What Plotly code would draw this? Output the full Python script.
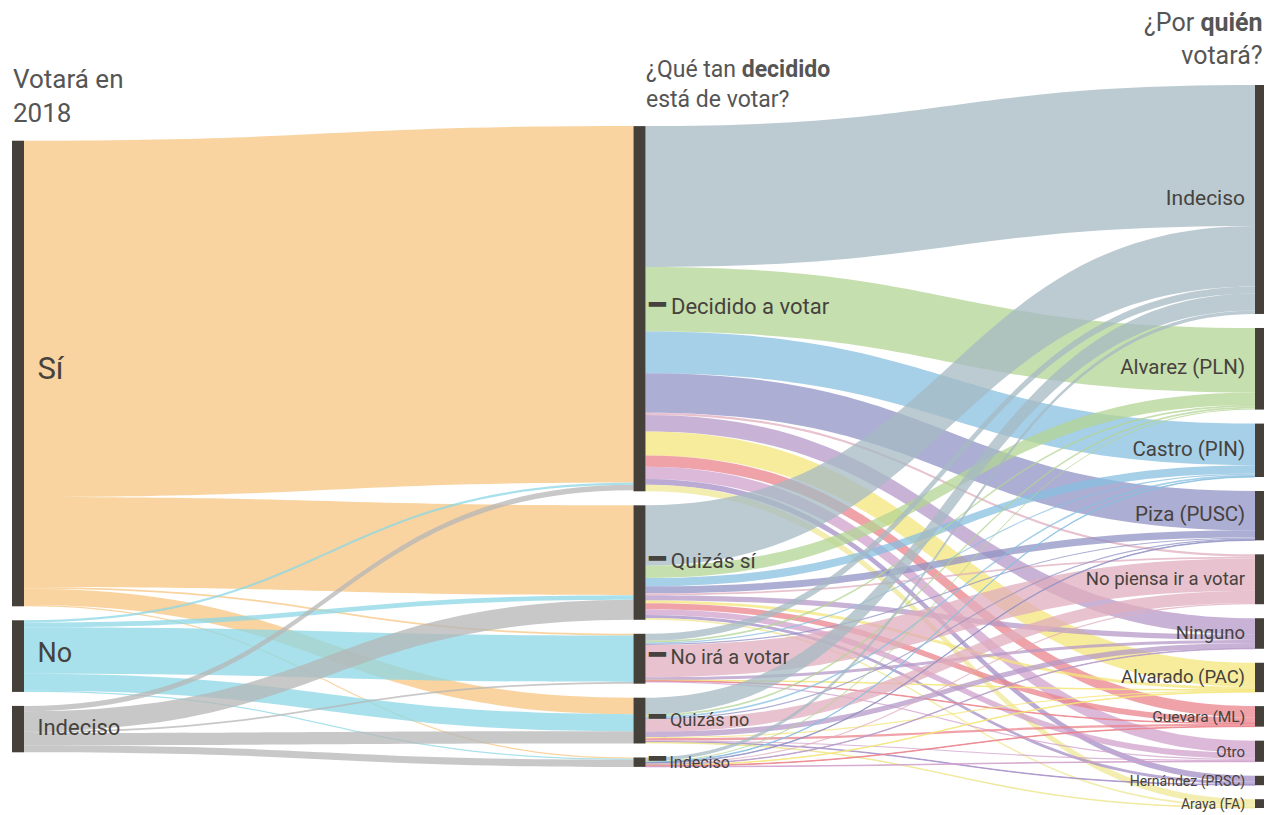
import plotly.graph_objects as go

# ---------------- data ----------------
labels = ["Sí", "No", "Indeciso",
          "Decidido a votar", "Quizás sí", "No irá a votar", "Quizás no", "Indeciso",
          "Indeciso", "Alvarez (PLN)", "Castro (PIN)", "Piza (PUSC)", "No piensa ir a votar",
          "Ninguno", "Alvarado (PAC)", "Guevara (ML)", "Otro", "Hernández (PRSC)", "Araya (FA)"]
columns = [0, 0, 0,
           1, 1, 1, 1, 1,
           2, 2, 2, 2, 2, 2, 2, 2, 2, 2, 2]
label_sizes = [31, 27, 22,
               22, 21, 20, 18, 16,
               21, 20.5, 20.5, 20.5, 18.5, 18.5, 18.5, 15.5, 15, 14, 14]
middle_nodes = [3, 4, 5, 6, 7]

# Votará en 2018 -> ¿Qué tan decidido?
src_a = [0, 0, 0, 0, 0,
         1, 1, 1, 1, 1,
         2, 2, 2, 2, 2]
tgt_a = [3, 4, 5, 6, 7,
         3, 4, 5, 6, 7,
         3, 4, 5, 6, 7]
val_a = [60.7, 15.3, 0.3, 2.8, 0.2,
         0.4, 0.8, 7.9, 2.9, 0.2,
         0.9, 3.4, 0.3, 2.1, 1.2]

# ¿Qué tan decidido? -> ¿Por quién votará?
cand = list(range(8, 19))
val_decidido = [24.0, 11.0, 7.1, 6.7, 0.4, 2.8, 4.1, 1.9, 2.1, 1.0, 1.1]
val_quizas_si = [10.3, 2.1, 1.4, 1.2, 0.3, 0.9, 0.5, 1.0, 1.0, 0.5, 0.3]
val_no_ira = [1.2, 0.3, 0.2, 0.2, 5.5, 0.5, 0.1, 0.1, 0.2, 0.0, 0.0]
val_quizas_no = [2.9, 0.3, 0.3, 0.2, 2.1, 0.9, 0.2, 0.4, 0.2, 0.1, 0.1]
val_indeciso = [0.6, 0.2, 0.1, 0.1, 0.2, 0.1, 0.1, 0.1, 0.1, 0.0, 0.0]

# ---------------- styles ----------------
left_colors = {0: "#F9D4A0", 1: "#A8E1EC", 2: "#C8C8C8"}
right_colors = {8: "#BCCBD2", 9: "#C6DFAE", 10: "#A6CFE8", 11: "#ADAED3", 12: "#E8C2CE",
                13: "#C8B3D6", 14: "#F7EC9C", 15: "#F0A2A9", 16: "#DCB8D9", 17: "#BBAAD4",
                18: "#F3EDB0"}
ALPHA = 0.75
THICK, PAD = 12, 14
TXT = "#46423d"


def rgba(hexc, a=ALPHA):
    r, g, b = (int(hexc[i:i + 2], 16) for i in (1, 3, 5))
    f = lambda c: max(0, min(255, round((c - (1 - a) * 255) / a)))
    return f"rgba({f(r)},{f(g)},{f(b)},{a})"


sources, targets, values, colors = [], [], [], []
for s, t, v in zip(src_a, tgt_a, val_a):
    sources.append(s); targets.append(t); values.append(v); colors.append(rgba(left_colors[s]))
for mid, vals in zip(middle_nodes, [val_decidido, val_quizas_si, val_no_ira, val_quizas_no, val_indeciso]):
    for t, v in zip(cand, vals):
        if v > 0:
            sources.append(mid); targets.append(t); values.append(v); colors.append(rgba(right_colors[t]))

# ---------------- page geometry (html body has an 8px margin) ----------------
BODY = 8
W, H = 1272 - BODY, 815 - BODY
ml, mr, mt, mb = 4, 5, 77, 7
pw, ph = W - ml - mr, H - mt - mb

# node positions: keep the given order, stack each column and centre it vertically
n = len(labels)
inflow = [0.0] * n
outflow = [0.0] * n
for s, t, v in zip(sources, targets, values):
    outflow[s] += v
    inflow[t] += v
node_val = [max(a, b) for a, b in zip(inflow, outflow)]
ncol = max(columns) + 1
col_nodes = [[i for i in range(n) if columns[i] == c] for c in range(ncol)]
ky = min((ph - (len(c) - 1) * PAD) / sum(node_val[i] for i in c) for c in col_nodes)
node_x, node_y = [0.0] * n, [0.0] * n
for c, idx in enumerate(col_nodes):
    span = sum(node_val[i] for i in idx) * ky + (len(idx) - 1) * PAD
    y = (ph - span) / 2
    for i in idx:
        h = node_val[i] * ky
        node_y[i] = (y + h / 2) / ph
        node_x[i] = (THICK / 2 + c / (ncol - 1) * (pw - THICK)) / pw
        y += h + PAD

NB = "\u00a0"
node_labels = []
for i, (lab, sz) in enumerate(zip(labels, label_sizes)):
    if columns[i] == 0:
        txt = f'<span style="font-size:14px">{NB * 3}</span><span style="font-size:{sz}px">{lab}</span>'
    elif columns[i] == 1:
        txt = (f'<span style="font-size:28px">━</span>'
               f'<span style="font-size:{sz}px"> {lab}</span>')
    else:
        txt = f'<span style="font-size:{sz}px">{lab}</span><span style="font-size:14px">{NB * 2}</span>'
    node_labels.append(txt)

fig = go.Figure(go.Sankey(
    arrangement="fixed",
    node=dict(label=node_labels, color="#45403a", thickness=THICK, pad=PAD,
              line=dict(width=0), x=node_x, y=node_y),
    link=dict(source=sources, target=targets, value=values, color=colors),
    textfont=dict(family="Roboto", size=16, color=TXT, shadow="none"),
))

px = lambda x: (x - BODY - ml) / pw
py = lambda y: (H - mb - (y - BODY)) / ph

fig.add_annotation(x=px(11), y=py(62), xref="paper", yref="paper", xanchor="left", yanchor="top",
                   text="Votará en<br>2018", showarrow=False, align="left",
                   font=dict(family="Roboto", size=26, color="#555555"))
fig.add_annotation(x=px(644), y=py(54), xref="paper", yref="paper", xanchor="left", yanchor="top",
                   text="¿Qué tan <b>decidido</b><br>está de votar?", showarrow=False, align="left",
                   font=dict(family="Roboto", size=23, color="#555555"))
fig.add_annotation(x=px(1265), y=py(6), xref="paper", yref="paper", xanchor="right", yanchor="top",
                   text="¿Por <b>quién</b><br>votará?", showarrow=False, align="right",
                   font=dict(family="Roboto", size=25, color="#555555"))

fig.update_layout(width=W, height=H, margin=dict(l=ml, r=mr, t=mt, b=mb),
                  paper_bgcolor="white", plot_bgcolor="white",
                  font=dict(family="Roboto", color=TXT))
fig.write_html("out.html")
